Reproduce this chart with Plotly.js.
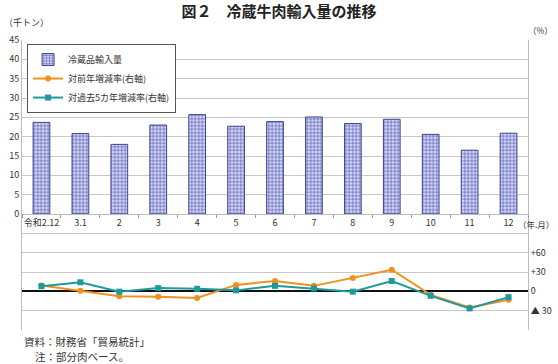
<!DOCTYPE html>
<html><head><meta charset="utf-8">
<script src="https://cdn.plot.ly/plotly-3.0.1.min.js"></script>
<style>html,body{margin:0;padding:0;background:#fff;}#c{width:558px;height:364px;}</style>
</head><body><div id="c"></div>
<script>
const categories = ['令和2.12','3.1','2','3','4','5','6','7','8','9','10','11','12'];
const importVolume = [23.7, 20.8, 18.0, 23.0, 25.7, 22.7, 23.9, 25.1, 23.4, 24.5, 20.6, 16.5, 20.9];
const yoyRate = [9, 1, -7.5, -8.5, -10.4, 10, 16, 8.5, 20.5, 33.5, -5.5, -25, -13];
const fiveYearRate = [8, 14, -0.5, 5, 4, 1.5, 8.5, 4.5, -0.5, 16, -7, -26.5, -9];
const leftTickVals = [-30,-25,-20,-15,-10,-5,0,5,10,15,20,25,30,35,40,45];
const leftTickText = ['','','','','','','0','5','10','15','20','25','30','35','40','45'];
const rightTickVals = [-30, 0, 30, 60];
const rightTickText = ['▲ 30', '0', '+30', '+60'];

const F = '"Noto Sans CJK JP", "Noto Sans", sans-serif';
const txt = '#333';

const traces = [
  {type:'bar', x:categories, y:importVolume, name:'冷蔵品輸入量', width:0.43,
   marker:{color:'#c9ccef', line:{color:'#3e4593', width:1},
     pattern:{shape:'+', fgcolor:'#5259b8', bgcolor:'#d6d8f3', size:3.5, solidity:0.35}}},
  {type:'scatter', mode:'lines+markers', x:categories, y:yoyRate, yaxis:'y2', name:'対前年増減率(右軸)',
   line:{color:'#f0901e', width:2}, marker:{symbol:'circle', size:6, color:'#f0901e'}},
  {type:'scatter', mode:'lines+markers', x:categories, y:fiveYearRate, yaxis:'y2', name:'対過去5カ年増減率(右軸)',
   line:{color:'#1f9a9c', width:2}, marker:{symbol:'square', size:6, color:'#1f9a9c'}}
];

const layout = {
  width:558, height:364,
  margin:{l:22, r:30, t:40, b:34},
  paper_bgcolor:'#fff', plot_bgcolor:'#fff',
  font:{family:F, size:9, color:txt},
  showlegend:true,
  legend:{x:0.01, y:0.986, xanchor:'left', yanchor:'top', bgcolor:'#fff', bordercolor:'#555', borderwidth:1,
    font:{family:F, size:9, color:txt}, tracegroupgap:0, itemwidth:30},
  title:{text:'<b>図２　冷蔵牛肉輸入量の推移</b>', x:0.5, xanchor:'center', y:0.967, yanchor:'middle',
    font:{family:F, size:15, color:'#222'}},
  xaxis:{type:'category', anchor:'free', position:0.4, showline:true, linecolor:'#bbb', linewidth:1,
    ticks:'outside', tickson:'boundaries', ticklen:3, tickcolor:'#999', showgrid:false, tickangle:0,
    tickfont:{family:F, size:9, color:txt}, range:[-0.5, 12.5], zeroline:false},
  yaxis:{range:[-30,45], tickvals:leftTickVals, ticktext:leftTickText, showgrid:true, gridcolor:'#c8c8c8', gridwidth:1,
    showline:true, linecolor:'#bbb', zeroline:false, ticks:'', tickfont:{family:F, size:9, color:txt}},
  yaxis2:{overlaying:'y', side:'right', range:[-60, 390], tickvals:rightTickVals, ticktext:rightTickText,
    showgrid:false, showline:true, linecolor:'#bbb', zeroline:true, zerolinecolor:'#111', zerolinewidth:2,
    ticks:'', tickfont:{family:F, size:9, color:txt}},
  annotations:[
    {text:'（千トン）', xref:'paper', yref:'paper', x:-0.04, y:1.062, xanchor:'left', yanchor:'middle', showarrow:false, font:{family:F, size:9, color:txt}},
    {text:'（%）', xref:'paper', yref:'paper', x:1.024, y:1.034, xanchor:'center', yanchor:'middle', showarrow:false, font:{family:F, size:8.5, color:txt}},
    {text:'（年.月）', xref:'paper', yref:'paper', x:1.055, y:0.366, xanchor:'right', yanchor:'middle', showarrow:false, font:{family:F, size:8.5, color:txt}},
    {text:'資料：財務省「貿易統計」', xref:'paper', yref:'paper', x:0, y:-0.038, xanchor:'left', yanchor:'middle', showarrow:false, font:{family:F, size:10.5, color:txt}},
    {text:'注：部分肉ベース。', xref:'paper', yref:'paper', x:0.022, y:-0.093, xanchor:'left', yanchor:'middle', showarrow:false, font:{family:F, size:10.5, color:txt}}
  ]
};
Plotly.newPlot('c', traces, layout, {displayModeBar:false, staticPlot:true});
</script></body></html>
